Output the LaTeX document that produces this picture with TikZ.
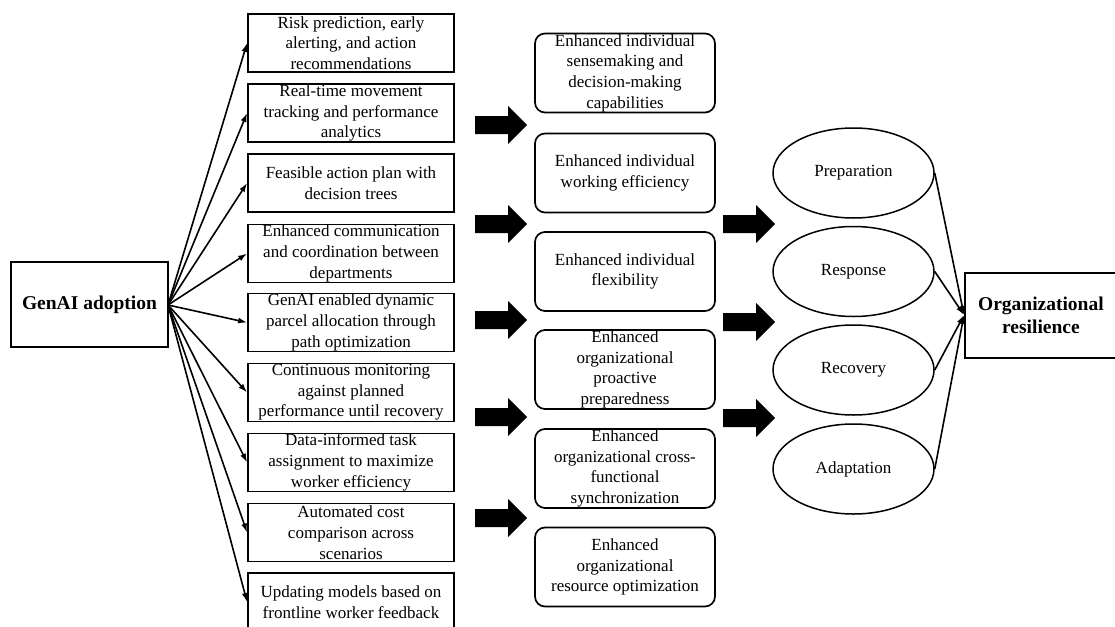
\documentclass[tikz,border=0pt]{standalone}
\usepackage{fontspec}
\setmainfont{Liberation Serif}
\usetikzlibrary{arrows.meta,shapes.geometric}
\tikzset{
  every node/.style={font=\fontsize{17}{20.7}\selectfont, align=center, inner sep=0pt},
  leftbox/.style={draw, line width=1.8pt, minimum width=206pt, minimum height=58pt},
  midbox/.style={draw, line width=1.7pt, rounded corners=10pt, minimum width=180pt, minimum height=79pt},
  ellbox/.style={draw, ellipse, line width=1.5pt, minimum width=161pt, minimum height=90pt},
  bigbox/.style={draw, line width=1.8pt, font=\fontsize{19.5}{23}\selectfont\bfseries},
  conn/.style={line width=1.6pt, -{Latex[length=9pt,width=6pt]}},
  blockarrow/.pic={\fill[black] (-26,-9) -- (7,-9) -- (7,-19) -- (26,0) -- (7,19) -- (7,9) -- (-26,9) -- cycle;}
}
\begin{document}
\begin{tikzpicture}[x=1pt,y=-1pt]
\clip (0,0) rectangle (1115,626);
\fill[white] (0,0) rectangle (1115,626);

% source
\node[bigbox, minimum width=157pt, minimum height=85pt] (gen) at (89.5,304.5) {GenAI adoption};
\coordinate (gs) at (168,305);

% left column
\node[leftbox] (l1) at (351,43) {Risk prediction, early\\alerting, and action\\recommendations};
\node[leftbox] (l2) at (351,113) {Real-time movement\\tracking and performance\\analytics};
\node[leftbox] (l3) at (351,183) {Feasible action plan with\\decision trees};
\node[leftbox] (l4) at (351,253.5) {Enhanced communication\\and coordination between\\departments};
\node[leftbox] (l5) at (351,322.5) {GenAI enabled dynamic\\parcel allocation through\\path optimization};
\node[leftbox] (l6) at (351,392.5) {Continuous monitoring\\against planned\\performance until recovery};
\node[leftbox] (l7) at (351,462.5) {Data-informed task\\assignment to maximize\\worker efficiency};
\node[leftbox] (l8) at (351,532.5) {Automated cost\\comparison across\\scenarios};
\node[leftbox] (l9) at (351,602) {Updating models based on\\frontline worker feedback};

\foreach \n in {l1,l2,l3,l4,l5,l6,l7,l8,l9}
  \draw[conn] (gs) -- (\n.west);

% middle column
\node[midbox] (m1) at (625,73) {Enhanced individual\\sensemaking and\\decision-making\\capabilities};
\node[midbox] (m2) at (625,173) {Enhanced individual\\working efficiency};
\node[midbox] (m3) at (625,271.5) {Enhanced individual\\flexibility};
\node[midbox] (m4) at (625,369.5) {Enhanced\\organizational\\proactive\\preparedness};
\node[midbox] (m5) at (625,468.5) {Enhanced\\organizational cross-\\functional\\synchronization};
\node[midbox] (m6) at (625,567) {Enhanced\\organizational\\resource optimization};

% block arrows between left and middle
\foreach \y in {125,224,320,417,518}
  \pic at (501,\y) {blockarrow};
% block arrows between middle and right
\foreach \y in {224,322,418}
  \pic at (749,\y) {blockarrow};

% ellipses
\node[ellbox] (e1) at (853.5,173) {Preparation};
\node[ellbox] (e2) at (853.5,271.5) {Response};
\node[ellbox] (e3) at (853.5,370) {Recovery};
\node[ellbox] (e4) at (853.5,469) {Adaptation};

% outcome
\node[bigbox, minimum width=152pt, minimum height=85pt, anchor=west] (org) at (964,315.5) {Organizational\\resilience};
\coordinate (ot) at (964,315);
\foreach \n in {e1,e2,e3,e4}
  \draw[conn] (\n.east) -- (ot);
\end{tikzpicture}
\end{document}
